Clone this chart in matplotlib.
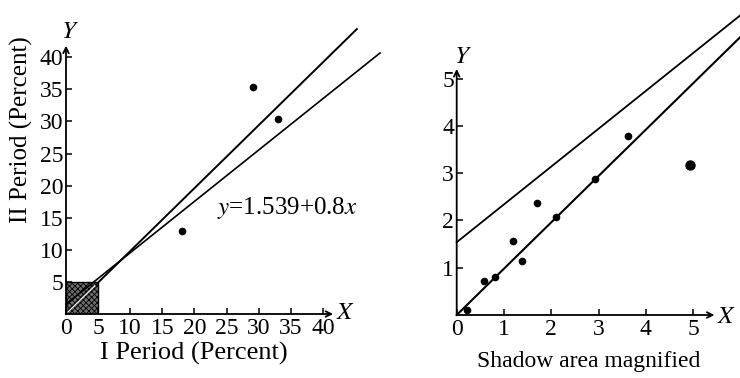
import matplotlib
matplotlib.use("Agg")
import matplotlib.pyplot as plt
import numpy as np

plt.rcParams['font.family'] = ['Liberation Serif', 'DejaVu Serif']
plt.rcParams['mathtext.fontset'] = 'stix'
plt.rcParams['hatch.linewidth'] = 0.6

# data
left_x = [18.1, 29.1, 33.0]
left_y = [12.9, 35.4, 30.3]
right_x = [0.22, 0.58, 0.80, 1.20, 1.39, 1.70, 2.09, 2.92, 3.62]
right_y = [0.11, 0.72, 0.81, 1.57, 1.15, 2.37, 2.07, 2.87, 3.78]
outlier_x = [4.94]
outlier_y = [3.18]

# fitted lines
fit_a, fit_b = 1.539, 0.8      # y = 1.539 + 0.8x
diag_slope = 0.98              # line through origin

left_ticks = [0, 5, 10, 15, 20, 25, 30, 35, 40]
right_ticks = [0, 1, 2, 3, 4, 5]

fig = plt.figure(figsize=(7.4, 3.78), dpi=100)


def setup_axis(ax, xmax_arrow, ymax_arrow, ticks, fs):
    for s in ax.spines.values():
        s.set_visible(False)
    ax.annotate('', xy=(xmax_arrow, 0), xytext=(0, 0),
                arrowprops=dict(arrowstyle='->', lw=1.3, color='black', shrinkA=0, shrinkB=0),
                annotation_clip=False)
    ax.annotate('', xy=(0, ymax_arrow), xytext=(0, 0),
                arrowprops=dict(arrowstyle='->', lw=1.3, color='black', shrinkA=0, shrinkB=0),
                annotation_clip=False)
    ax.set_xticks(ticks)
    ax.set_yticks(ticks[1:])
    ax.tick_params(direction='in', length=4, width=1.1, labelsize=fs, pad=3)
    ax.tick_params(axis='y', pad=2)


# left panel
ax1 = fig.add_axes([66 / 740, 64 / 378, 314 / 740, 294 / 378])
ax1.set_xlim(0, 48.9)
ax1.set_ylim(0, 45.8)
setup_axis(ax1, 41.6, 41.8, left_ticks, 17)
ax1.add_patch(plt.Rectangle((0, 0), 5, 5, facecolor='#6e6e6e', edgecolor='black',
                            hatch='xxxxxx', lw=1.0))
xa = np.array([0, 45.3])
ax1.plot(xa, diag_slope * xa, color='black', lw=1.4, clip_on=False)
xb = np.array([0, 48.9])
ax1.plot(xb, fit_a + fit_b * xb, color='black', lw=1.2, clip_on=False)
ax1.plot([0.3, 4.5], [0.3, 4.4], color='white', lw=0.9)
ax1.plot(left_x, left_y, 'o', color='black', ms=4.5)
ax1.text(23.5, 16.5, '$y$=1.539+0.8$x$', fontsize=18, va='center')
ax1.text(-0.8, 42.2, '$Y$', fontsize=18, ha='left', va='bottom')
ax1.text(42.0, 0.2, '$X$', fontsize=18, ha='left', va='center')
ax1.set_xlabel('I Period (Percent)', fontsize=19, va='top')
ax1.xaxis.set_label_coords(0.408, -0.095)
ax1.set_ylabel('II Period (Percent)', fontsize=18)
ax1.yaxis.set_label_coords(-0.105, 0.626)

# right panel
ax2 = fig.add_axes([456.7 / 740, 63 / 378, 283.3 / 740, 315 / 378])
ax2.set_xlim(0, 5.99)
ax2.set_ylim(0, 6.66)
setup_axis(ax2, 5.45, 5.2, right_ticks, 17)
xr = np.array([0, 5.99])
ax2.plot(xr, fit_a + fit_b * xr, color='black', lw=1.3, clip_on=False)
ax2.plot(xr, diag_slope * xr, color='black', lw=1.5, clip_on=False)
ax2.plot(right_x, right_y, 'o', color='black', ms=4.5, clip_on=False)
ax2.plot(outlier_x, outlier_y, 'o', color='black', ms=6.5)
ax2.text(-0.05, 5.22, '$Y$', fontsize=18, ha='left', va='bottom')
ax2.text(5.5, -0.05, '$X$', fontsize=18, ha='left', va='center')
ax2.set_xlabel('Shadow area magnified', fontsize=17, va='top')
ax2.xaxis.set_label_coords(0.467, -0.115)

fig.savefig('out.png', dpi=100)
